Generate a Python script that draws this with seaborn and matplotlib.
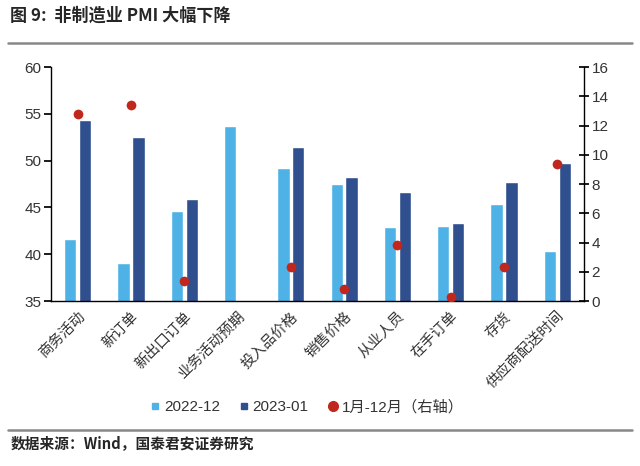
import seaborn as sns
import matplotlib.pyplot as plt
import matplotlib.lines as mlines
import pandas as pd
import numpy as np

sns.set_theme(style="white")
plt.rcParams['font.family'] = ['Liberation Sans', 'Noto Sans CJK SC', 'DejaVu Sans']

# --- data ---
categories = ['商务活动', '新订单', '新出口订单', '业务活动预期', '投入品价格',
              '销售价格', '从业人员', '在手订单', '存货', '供应商配送时间']
pmi_2022_12 = [41.6, 39.1, 44.6, 53.7, 49.2, 47.5, 42.9, 43.0, 45.4, 40.4]
pmi_2023_01 = [54.4, 52.5, 45.9, np.nan, 51.5, 48.3, 46.7, 43.3, 47.7, 49.8]
pct_rank = [12.8, 13.4, 1.4, np.nan, 2.3, 0.8, 3.8, 0.3, 2.3, 9.4]

c_light = '#4fb2e6'
c_dark = '#2f4f8e'
c_red = '#c0271d'

df = pd.DataFrame({
    'cat': categories * 2,
    'val': pmi_2022_12 + pmi_2023_01,
    'series': ['2022-12'] * 10 + ['2023-01'] * 10,
})
dots = pd.DataFrame({'cat': categories, 'val': pct_rank})

fig = plt.figure(figsize=(6.4, 4.66), dpi=100)
ax = fig.add_axes([0.0797, 0.354, 0.8328, 0.502])

sns.barplot(data=df, x='cat', y='val', hue='series', order=categories,
            palette=[c_light, c_dark], width=0.56, gap=0.18, ax=ax,
            legend=False, saturation=1)
ax.set_ylim(35, 60)
ax.set_yticks(range(35, 61, 5))

ax2 = ax.twinx()
sns.stripplot(data=dots, x='cat', y='val', order=categories, jitter=False,
              color=c_red, size=7, ax=ax2, zorder=5)
ax2.set_ylim(0, 16)
ax2.set_yticks(range(0, 17, 2))
ax.set_xlim(-0.5, 9.5)
ax2.set_xlim(-0.5, 9.5)

for a in (ax, ax2):
    a.set_xlabel('')
    a.set_ylabel('')
    a.spines['top'].set_visible(False)
    for s in ('left', 'right', 'bottom'):
        a.spines[s].set_color('black')
        a.spines[s].set_linewidth(1.0)

ax.spines['right'].set_visible(False)
ax2.spines['left'].set_visible(False)
ax2.spines['bottom'].set_visible(False)

ax.set_xticks(range(10))
ax.set_xticklabels(categories, rotation=45, ha='right', rotation_mode='anchor',
                   fontsize=10.5, color='#333333')
ax.set_xticks(np.arange(-0.5, 10, 1), minor=True)
ax.tick_params(axis='x', which='major', length=0, pad=6)
ax.tick_params(axis='x', which='minor', length=7, direction='inout', color='black', width=1)
ax.tick_params(axis='y', length=5, direction='out', left=True, color='black',
               labelsize=11, labelcolor='#333333', pad=2)
ax2.tick_params(axis='y', length=7, direction='inout', right=True, color='black',
                labelsize=11, labelcolor='#333333', pad=2)
ax2.tick_params(axis='x', bottom=False, labelbottom=False)

# legend
h1 = mlines.Line2D([], [], color=c_light, marker='s', linestyle='none', markersize=5)
h2 = mlines.Line2D([], [], color=c_dark, marker='s', linestyle='none', markersize=5)
h3 = mlines.Line2D([], [], color=c_red, marker='o', linestyle='none', markersize=7)
fig.legend([h1, h2, h3], ['2022-12', '2023-01', '1月-12月（右轴）'],
           loc='center', bbox_to_anchor=(0.48, 0.127), ncol=3, frameon=False,
           fontsize=11, handlelength=0.6, handletextpad=0.25, columnspacing=1.3,
           labelcolor='#333333')

# title and source
fig.text(0.016, 0.967, '图 9:  非制造业 PMI 大幅下降', fontsize=12.3, fontweight='bold',
         ha='left', va='center', family=['Noto Sans CJK SC'])
fig.add_artist(mlines.Line2D([0.012, 0.988], [0.908, 0.908], color='#888888', linewidth=1.8))
fig.add_artist(mlines.Line2D([0.012, 0.988], [0.077, 0.077], color='#888888', linewidth=1.8))
fig.text(0.016, 0.049, '数据来源：Wind，国泰君安证券研究', fontsize=10.6, fontweight='bold',
         ha='left', va='center', family=['Noto Sans CJK SC'])

fig.savefig('out.png', dpi=100)
